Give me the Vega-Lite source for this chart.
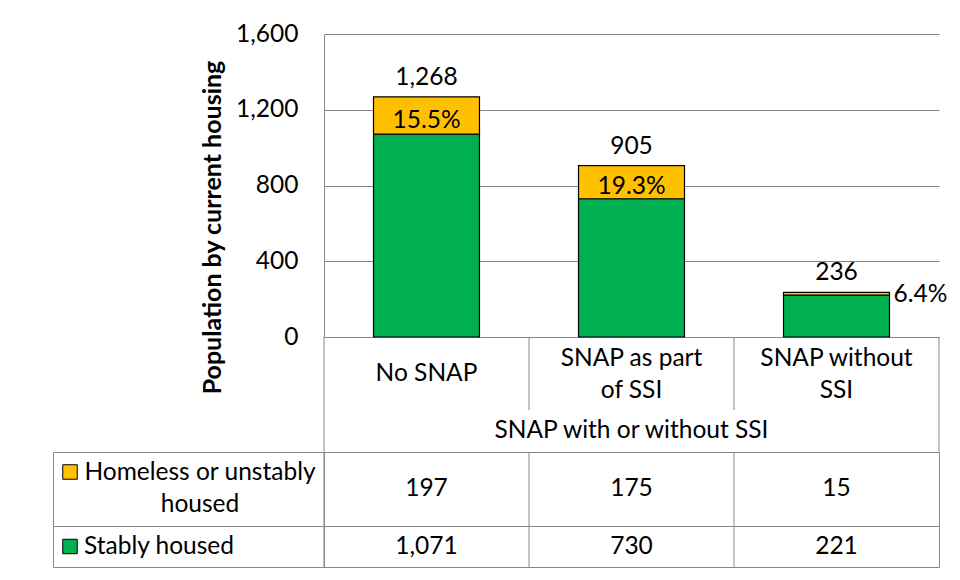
{
  "$schema": "https://vega.github.io/schema/vega-lite/v6.json",
  "padding": {"left": 52, "top": 21, "right": 0, "bottom": 0},
  "background": "white",
  "config": {
    "font": "Lato",
    "view": {"stroke": null},
    "text": {"fontSize": 24.5, "color": "#000000"},
    "axis": {"labelFont": "Lato", "titleFont": "Lato"}
  },
  "datasets": {
    "bars": [
      {"cat": "No SNAP", "series": "Stably housed", "value": 1071},
      {"cat": "No SNAP", "series": "Homeless or unstably housed", "value": 197, "share": 0.155},
      {"cat": "SNAP as part of SSI", "series": "Stably housed", "value": 730},
      {"cat": "SNAP as part of SSI", "series": "Homeless or unstably housed", "value": 175, "share": 0.193},
      {"cat": "SNAP without SSI", "series": "Stably housed", "value": 221},
      {"cat": "SNAP without SSI", "series": "Homeless or unstably housed", "value": 15, "share": 0.064}
    ],
    "cats": [
      {"cat": "No SNAP", "label": "No SNAP"},
      {"cat": "SNAP as part of SSI", "label": "SNAP as part\nof SSI"},
      {"cat": "SNAP without SSI", "label": "SNAP without\nSSI"}
    ]
  },
  "columns": 2,
  "spacing": 0,
  "bounds": "flush",
  "resolve": {"scale": {"x": "independent", "y": "independent", "color": "independent"}},
  "concat": [
    {"width": 271, "height": 303, "data": {"values": []}, "mark": "point"},
    {
      "width": 615,
      "height": 303,
      "data": {"name": "bars"},
      "encoding": {
        "x": {"field": "cat", "type": "nominal", "sort": ["No SNAP", "SNAP as part of SSI", "SNAP without SSI"],
              "scale": {"paddingInner": 0, "paddingOuter": 0},
              "axis": {"title": null, "labels": false, "ticks": false, "grid": false, "domain": true, "domainColor": "#888888", "domainWidth": 1}}
      },
      "layer": [
        {
          "mark": {"type": "bar", "width": {"band": 0.517}, "stroke": "#000000", "strokeWidth": 1.2},
          "encoding": {
            "y": {"field": "value", "type": "quantitative", "stack": "zero", "title": "Population by current housing",
                  "scale": {"domain": [0, 1600], "nice": false},
                  "axis": {"values": [0, 400, 800, 1200, 1600], "labelExpr": "format(datum.value, ',')", "grid": true, "gridColor": "#888888", "gridWidth": 1,
                           "domain": true, "domainColor": "#888888", "domainWidth": 1, "ticks": false,
                           "labelFontSize": 24.5, "labelColor": "#000000", "labelPadding": 26,
                           "titleFontSize": 25, "titleFontWeight": "bold", "titleColor": "#000000", "titlePadding": 10, "titleY": 193}},
            "color": {"field": "series", "type": "nominal",
                      "scale": {"domain": ["Homeless or unstably housed", "Stably housed"], "range": ["#FFC000", "#00B050"]},
                      "legend": null},
            "order": {"field": "series", "sort": "descending"}
          }
        },
        {
          "transform": [{"aggregate": [{"op": "sum", "field": "value", "as": "total"}], "groupby": ["cat"]}],
          "mark": {"type": "text", "baseline": "alphabetic", "dy": -12},
          "encoding": {
            "y": {"field": "total", "type": "quantitative", "title": "Population by current housing"},
            "text": {"field": "total", "type": "quantitative", "format": ","}
          }
        },
        {
          "transform": [
            {"stack": "value", "groupby": ["cat"], "sort": [{"field": "series", "order": "descending"}], "as": ["v0", "v1"]},
            {"filter": "datum.series === 'Homeless or unstably housed'"},
            {"fold": ["v0", "v1"], "as": ["edge", "ev"]},
            {"aggregate": [{"op": "mean", "field": "ev", "as": "mid"}], "groupby": ["cat", "share"]},
            {"filter": "datum.cat !== 'SNAP without SSI'"}
          ],
          "mark": {"type": "text", "baseline": "alphabetic", "dy": 12},
          "encoding": {
            "y": {"field": "mid", "type": "quantitative", "title": "Population by current housing"},
            "text": {"field": "share", "type": "quantitative", "format": ".1%"}
          }
        },
        {
          "transform": [
            {"stack": "value", "groupby": ["cat"], "sort": [{"field": "series", "order": "descending"}], "as": ["v0", "v1"]},
            {"filter": "datum.series === 'Homeless or unstably housed'"},
            {"fold": ["v0", "v1"], "as": ["edge", "ev"]},
            {"aggregate": [{"op": "mean", "field": "ev", "as": "mid"}], "groupby": ["cat", "share"]},
            {"filter": "datum.cat === 'SNAP without SSI'"}
          ],
          "mark": {"type": "text", "baseline": "alphabetic", "align": "left", "dx": 4, "dy": 8},
          "encoding": {
            "x": {"field": "cat", "type": "nominal", "bandPosition": 0.7585},
            "y": {"field": "mid", "type": "quantitative", "title": "Population by current housing"},
            "text": {"field": "share", "type": "quantitative", "format": ".1%"}
          }
        }
      ]
    },
    {"width": 271, "height": 73, "data": {"values": []}, "mark": "point"},
    {
      "width": 615,
      "height": 73,
      "data": {"name": "cats"},
      "encoding": {
        "x": {"field": "cat", "type": "nominal", "sort": ["No SNAP", "SNAP as part of SSI", "SNAP without SSI"], "scale": {"paddingInner": 0, "paddingOuter": 0}, "axis": null}
      },
      "layer": [
        {
          "transform": [{"filter": "datum.cat === 'No SNAP'"}],
          "mark": {"type": "text"},
          "encoding": {"text": {"field": "label"}}
        },
        {
          "transform": [{"filter": "datum.cat !== 'No SNAP'"}],
          "mark": {"type": "text", "lineBreak": "\n", "lineHeight": 32, "dy": -15},
          "encoding": {"text": {"field": "label"}}
        },
        {
          "mark": {"type": "rule", "color": "#888888", "strokeWidth": 1},
          "encoding": {"x": {"field": "cat", "type": "nominal", "bandPosition": 0}}
        },
        {
          "transform": [{"filter": "datum.cat === 'SNAP without SSI'"}],
          "mark": {"type": "rule", "color": "#888888", "strokeWidth": 1},
          "encoding": {"x": {"field": "cat", "type": "nominal", "bandPosition": 1}}
        }
      ]
    },
    {"width": 271, "height": 42, "data": {"values": []}, "mark": "point"},
    {
      "width": 615,
      "height": 42,
      "data": {"name": "cats"},
      "layer": [
        {
          "data": {"values": [{"label": "SNAP with or without SSI"}]},
          "mark": {"type": "text"},
          "encoding": {"text": {"field": "label"}}
        },
        {
          "transform": [{"filter": "datum.cat === 'No SNAP'"}],
          "mark": {"type": "rule", "color": "#888888", "strokeWidth": 1},
          "encoding": {"x": {"field": "cat", "type": "nominal", "bandPosition": 0, "scale": {"domain": ["No SNAP", "SNAP as part of SSI", "SNAP without SSI"], "paddingInner": 0, "paddingOuter": 0}, "axis": null}}
        },
        {
          "transform": [{"filter": "datum.cat === 'SNAP without SSI'"}],
          "mark": {"type": "rule", "color": "#888888", "strokeWidth": 1},
          "encoding": {"x": {"field": "cat", "type": "nominal", "bandPosition": 1}}
        }
      ]
    },
    {
      "width": 271,
      "height": 74,
      "view": {"stroke": "#888888", "strokeWidth": 1},
      "data": {"values": [{"series": "Homeless or unstably housed", "label": "Homeless or unstably\nhoused"}]},
      "layer": [
        {
          "mark": {"type": "point", "shape": "square", "filled": true, "size": 210, "fill": "#FFC000", "stroke": "#000000", "strokeWidth": 1, "opacity": 1},
          "encoding": {"x": {"value": 17}, "y": {"value": 20}}
        },
        {
          "mark": {"type": "text", "lineBreak": "\n", "lineHeight": 32, "align": "center", "dy": -16},
          "encoding": {"x": {"value": 147}, "text": {"field": "label"}}
        }
      ]
    },
    {
      "width": 615,
      "height": 74,
      "view": {"stroke": "#888888", "strokeWidth": 1},
      "data": {"name": "bars"},
      "transform": [{"filter": "datum.series === 'Homeless or unstably housed'"}],
      "layer": [
        {
          "mark": {"type": "text"},
          "encoding": {
            "x": {"field": "cat", "type": "nominal", "sort": ["No SNAP", "SNAP as part of SSI", "SNAP without SSI"], "scale": {"paddingInner": 0, "paddingOuter": 0}, "axis": null},
            "text": {"field": "value", "type": "quantitative", "format": ","}
          }
        },
        {
          "mark": {"type": "rule", "color": "#888888", "strokeWidth": 1},
          "encoding": {"x": {"field": "cat", "type": "nominal", "bandPosition": 0}}
        }
      ]
    },
    {
      "width": 271,
      "height": 41,
      "view": {"stroke": "#888888", "strokeWidth": 1},
      "data": {"values": [{"series": "Stably housed", "label": "Stably housed"}]},
      "layer": [
        {
          "mark": {"type": "point", "shape": "square", "filled": true, "size": 210, "fill": "#00B050", "stroke": "#000000", "strokeWidth": 1, "opacity": 1},
          "encoding": {"x": {"value": 17}}
        },
        {
          "mark": {"type": "text", "align": "left"},
          "encoding": {"x": {"value": 31}, "text": {"field": "label"}}
        }
      ]
    },
    {
      "width": 615,
      "height": 41,
      "view": {"stroke": "#888888", "strokeWidth": 1},
      "data": {"name": "bars"},
      "transform": [{"filter": "datum.series === 'Stably housed'"}],
      "layer": [
        {
          "mark": {"type": "text"},
          "encoding": {
            "x": {"field": "cat", "type": "nominal", "sort": ["No SNAP", "SNAP as part of SSI", "SNAP without SSI"], "scale": {"paddingInner": 0, "paddingOuter": 0}, "axis": null},
            "text": {"field": "value", "type": "quantitative", "format": ","}
          }
        },
        {
          "mark": {"type": "rule", "color": "#888888", "strokeWidth": 1},
          "encoding": {"x": {"field": "cat", "type": "nominal", "bandPosition": 0}}
        }
      ]
    }
  ]
}
